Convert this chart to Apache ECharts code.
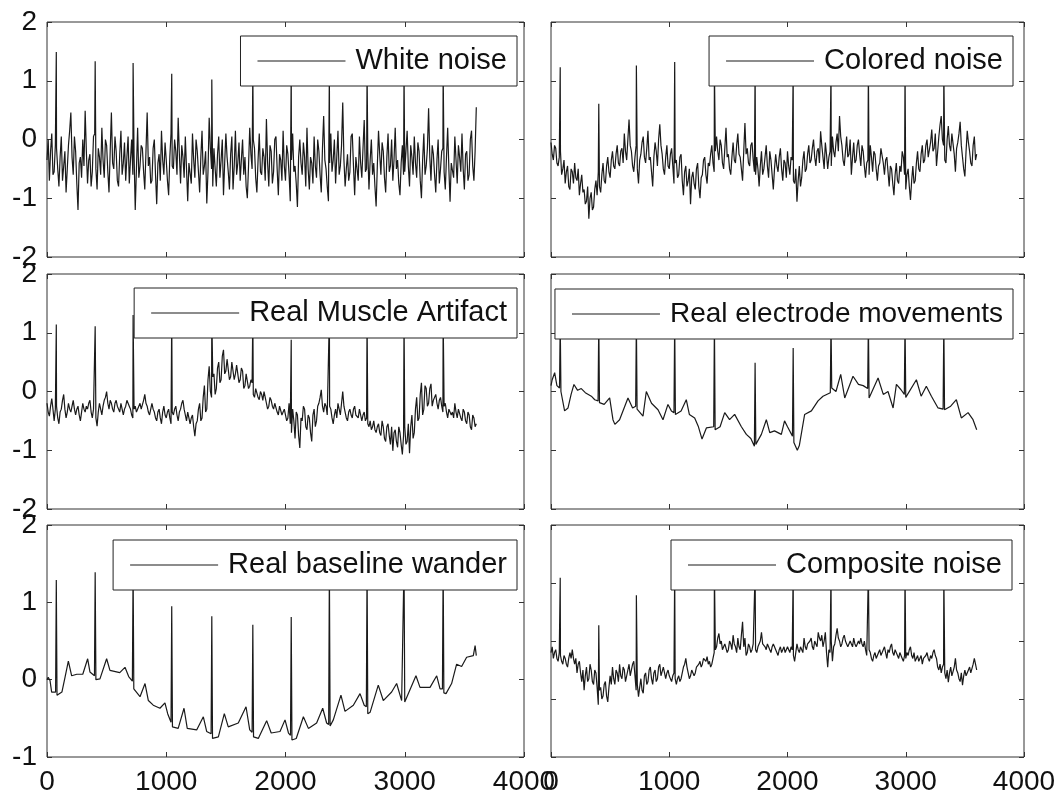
<!DOCTYPE html>
<html>
<head>
<meta charset="utf-8">
<script src="https://cdn.jsdelivr.net/npm/echarts@6/dist/echarts.min.js"></script>
<style>
  html, body { margin: 0; padding: 0; background: #fff; }
  #chart { width: 1063px; height: 796px; }
</style>
</head>
<body>
<div id="chart"></div>
<script>
// R-peak sample positions, same ECG record in all six panels
var rPeaks = [78, 404, 722, 1046, 1382, 1726, 2048, 2368, 2684, 2994, 3322];

// noisy panels: one value every 10 samples (0..3600)
var whiteNoise = [
  -0.35, 0.0, -0.7, -0.2, 0.1, -0.6, -0.55, -0.1, -0.15, -0.5, -0.8, -0.3, 0.05, -0.7, -0.45, -0.2, -0.9, -0.5, -0.1, 0.15,
  0.46, -0.3, -0.6, 0.05, -0.2, -0.75, -1.2, -0.4, -0.3, -0.65, 0.0, -0.45, 0.49, -0.2, -0.75, -0.35, -0.25, -0.8, -0.55, 0.05,
  0.1, -0.5, -0.85, -0.15, -0.3, -0.6, 0.2, -0.35, -0.65, 0.0, -0.1, -0.55, -0.9, -0.2, 0.46, -0.4, -0.5, 0.05, -0.2, -0.7,
  -0.8, -0.25, 0.15, -0.6, -0.4, -0.05, -0.7, -0.3, 0.05, -0.75, -0.35, 0.0, -0.6, -0.25, -1.2, -0.5, 0.2, -0.65, -0.45, -0.1,
  -0.15, -0.55, -0.85, -0.2, 0.46, -0.45, -0.3, -0.75, -0.7, -0.15, 0.0, -0.6, -1.1, -0.4, -0.25, -0.7, 0.15, -0.35, -0.6, -0.05,
  -0.35, -0.7, -0.95, -0.3, 0.1, -0.45, -0.5, 0.0, -0.2, -0.6, 0.37, -0.25, -0.75, -0.1, -0.3, -0.65, 0.05, -0.5, -1.05, -0.4,
  -0.4, -0.75, 0.1, -0.35, -0.65, 0.0, -0.2, -0.55, -0.9, -0.3, 0.15, -0.6, -0.45, -0.2, -1.09, -0.55, 0.37, -0.15, -0.5, -0.8,
  -0.15, -0.5, -0.8, -0.25, 0.05, -0.65, -0.35, 0.0, -0.95, -0.4, 0.1, -0.3, -0.55, -0.85, -0.25, 0.05, -0.85, -0.45, 0.15, -0.6,
  -0.4, -0.05, -0.7, -0.35, 0.0, -0.6, -0.3, -0.8, -1.0, -0.45, 0.2, -0.25, -0.5, 0.0, -0.15, -0.65, -0.9, -0.35, 0.1, -0.55,
  -0.6, -0.15, -0.3, -0.7, 0.35, -0.4, -0.8, -0.1, -0.2, -0.75, -0.55, 0.0, 0.05, -0.5, -0.95, -0.25, -0.35, -0.7, 0.15, -0.45,
  -0.7, -0.1, -0.25, -0.6, -1.05, -0.35, 0.1, -0.55, -0.45, -0.75, -1.15, -0.3, 0.0, -0.4, -0.6, -0.05, -0.3, -0.8, 0.2, -0.5,
  -0.85, -0.3, -0.4, -0.75, 0.05, -0.45, -0.65, 0.0, -0.2, -0.6, -0.9, -0.15, 0.4, -0.35, -0.5, -0.8, -1.05, -0.4, 0.1, -0.55,
  -0.35, 0.0, -0.75, -0.3, 0.15, -0.6, -0.45, -0.1, 0.63, -0.35, -0.8, -0.5, -0.25, -0.7, -0.55, 0.05, 0.1, -0.45, -0.95, -0.3,
  -0.3, -0.7, 0.05, -0.4, -0.65, -0.15, 0.33, -0.55, -0.5, -0.2, -0.85, -0.35, 0.0, -0.6, -0.4, -0.8, -1.14, -0.45, 0.15, -0.25,
  -0.6, -0.05, -0.2, -0.65, -0.9, -0.3, 0.1, -0.55, -0.45, 0.0, -0.7, -0.35, 0.2, -0.5, -0.35, -0.75, -0.95, -0.4, -0.1, -0.6,
  -0.55, -0.2, 0.15, -0.45, -0.8, -0.1, -0.3, -0.6, 0.05, -0.4, -0.65, -0.05, -0.2, -0.7, -1.0, -0.35, 0.1, -0.6, -0.45, -0.15,
  0.53, -0.3, -0.7, -0.1, -0.25, -0.6, -0.9, -0.35, 0.0, -0.75, -0.5, -0.2, -0.15, -0.55, -0.85, -0.3, 0.2, -0.5, -1.06, -0.4,
  -0.4, -0.65, 0.05, -0.35, -0.75, -0.1, -0.3, -0.55, 0.1, -0.5, -0.85, -0.25, -0.2, -0.7, -0.6, 0.0, 0.15, -0.45, -0.7, -0.2, 0.55
];
var whitePeaks = [1.49, 1.33, 1.3, 1.12, 1.02, 1.2, 1.2, 1.2, 1.2, 1.2, 1.2];

var coloredNoise = [
  -0.05, -0.25, -0.35, -0.1, -0.15, -0.4, -0.45, -0.3, -0.2, -0.6, -0.5, -0.35, -0.75, -0.55, -0.45, -0.8, -0.85, -0.5, -0.55, -0.75,
  -0.4, -0.65, -0.7, -0.5, -0.95, -0.75, -0.6, -0.9, -0.85, -1.1, -1.05, -0.8, -1.35, -1.0, -0.9, -1.2, -1.15, -0.85, -0.7, -0.95,
  -0.55, -0.8, -0.9, -0.6, -0.4, -0.7, -0.75, -0.45, -0.3, -0.55, -0.65, -0.35, -0.2, -0.45, -0.5, -0.25, -0.1, -0.4, -0.45, -0.2,
  -0.15, -0.4, 0.1, -0.2, -0.35, 0.0, 0.34, -0.1, -0.2, -0.45, -0.55, -0.3, -0.1, -0.5, -0.75, -0.35, -0.25, -0.05, 0.05, -0.3,
  -0.4, -0.15, 0.15, -0.35, -0.3, -0.55, -0.8, -0.3, -0.05, -0.2, -0.45, 0.0, 0.26, -0.1, -0.25, -0.5, -0.6, -0.3, -0.1, -0.45,
  -0.5, -0.25, -0.15, -0.45, -0.75, -0.4, -0.35, -0.65, -0.6, -0.3, -0.25, -0.7, -0.95, -0.55, -0.45, -0.8, -0.7, -0.5, -1.1, -0.65,
  -0.55, -0.75, -0.85, -0.5, -0.4, -0.8, -1.0, -0.65, -0.6, -0.35, -0.3, -0.6, -0.75, -0.4, -0.45, -0.25, -0.1, -0.4, -0.55, -0.2,
  0.05, -0.2, -0.35, 0.0, -0.1, -0.4, -0.5, -0.15, 0.2, -0.3, -0.25, -0.5, -0.6, -0.3, -0.05, -0.35, -0.4, -0.1, 0.1, -0.25,
  -0.3, -0.5, -0.7, -0.2, 0.28, -0.25, -0.15, -0.4, -0.45, -0.1, -0.05, -0.35, -0.55, -0.6, -0.3, -0.5, -0.8, -0.45, -0.2, -0.6,
  -0.5, -0.3, -0.1, -0.45, -0.65, -0.2, -0.35, -0.6, -0.85, -0.5, -0.25, -0.45, -0.55, -0.3, -0.15, -0.5, -0.7, -0.35, -0.4, -0.65,
  -0.2, -0.45, -0.6, -0.3, -0.35, -0.7, -0.75, -0.5, -1.06, -0.7, -0.45, -0.8, -0.65, -0.35, -0.2, -0.55, -0.5, -0.25, -0.1, -0.4,
  -0.35, -0.15, 0.0, -0.3, -0.45, -0.2, -0.15, -0.4, 0.14, -0.1, -0.3, -0.5, -0.05, -0.25, -0.5, -0.3, -0.2, -0.45, 0.05, -0.2,
  -0.3, -0.05, 0.1, -0.2, 0.4, 0.05, -0.1, -0.35, -0.45, -0.2, 0.05, -0.3, -0.25, 0.0, -0.6, -0.3, -0.05, -0.4, -0.35, -0.1,
  0.0, -0.25, -0.45, -0.1, -0.2, -0.45, -0.65, -0.4, -0.35, -0.6, -0.1, -0.3, -0.55, -0.2, -0.25, -0.5, -0.7, -0.45, -0.4, -0.15,
  -0.15, -0.4, -0.6, -0.35, -0.3, -0.55, -0.8, -0.45, -0.5, -0.75, -0.95, -0.6, -0.4, -0.7, -0.75, -0.45, -0.55, -0.2, -0.3, -0.6,
  -0.85, -0.6, -0.5, -0.8, -1.03, -0.7, -0.45, -0.75, -0.7, -0.4, -0.2, -0.5, -0.55, -0.25, -0.1, -0.4, -0.35, -0.1, 0.0, -0.3,
  -0.3, -0.05, 0.17, -0.2, -0.15, 0.1, -0.45, -0.2, 0.05, 0.25, 0.4, 0.0, -0.1, -0.35, -0.4, 0.0, 0.23, -0.1, -0.2, 0.1,
  0.1, -0.25, -0.55, -0.15, -0.05, 0.1, 0.3, -0.1, -0.3, -0.5, -0.63, -0.2, 0.15, -0.05, -0.2, -0.4, -0.45, -0.1, 0.05, -0.35, -0.25
];
var coloredPeaks = [1.23, 0.61, 1.26, 1.32, 1.2, 1.2, 1.2, 1.2, 1.2, 1.2, 1.2];

var muscle = [
  -0.2, -0.35, -0.42, -0.25, -0.12, -0.3, -0.5, -0.3, -0.25, -0.45, -0.55, -0.35, -0.3, -0.15, -0.05, -0.3, -0.45, -0.35, -0.2, -0.3,
  -0.35, -0.25, -0.15, -0.3, -0.4, -0.3, -0.25, -0.4, -0.5, -0.35, -0.2, -0.3, -0.35, -0.25, -0.3, -0.2, -0.15, -0.35, -0.45, -0.3,
  -0.3, -0.45, -0.59, -0.35, -0.2, -0.3, -0.4, -0.25, -0.15, -0.1, 0.0, -0.2, -0.3, -0.15, -0.2, -0.3, -0.35, -0.2, -0.15, -0.25,
  -0.3, -0.35, -0.2, -0.3, -0.4, -0.3, -0.25, -0.15, -0.15, -0.25, -0.3, -0.4, -0.45, -0.3, -0.25, -0.35, -0.35, -0.25, -0.2, -0.3,
  -0.3, -0.15, -0.05, -0.2, -0.25, -0.35, -0.4, -0.3, -0.2, -0.3, -0.35, -0.45, -0.5, -0.35, -0.3, -0.45, -0.55, -0.35, -0.25, -0.4,
  -0.45, -0.35, -0.3, -0.45, -0.55, -0.35, -0.4, -0.3, -0.25, -0.4, -0.5, -0.35, -0.3, -0.2, -0.15, -0.3, -0.4, -0.5, -0.35, -0.45,
  -0.55, -0.45, -0.4, -0.6, -0.76, -0.55, -0.5, -0.3, -0.2, -0.5, -0.45, -0.1, 0.1, -0.35, -0.3, 0.2, 0.43, 0.0, -0.1, 0.25,
  0.3, -0.05, 0.05, 0.4, 0.5, 0.15, 0.2, 0.6, 0.71, 0.3, 0.35, 0.55, 0.55, 0.2, 0.25, 0.5, 0.5, 0.2, 0.3, 0.45,
  0.45, 0.15, 0.2, 0.4, 0.35, 0.05, 0.1, 0.3, 0.3, 0.05, 0.09, 0.2, 0.15, -0.05, -0.1, 0.05, 0.05, -0.1, -0.14, 0.0,
  -0.05, -0.15, 0.0, -0.1, -0.2, -0.3, -0.25, -0.1, -0.15, -0.25, -0.3, -0.2, -0.2, -0.35, -0.4, -0.25, -0.25, -0.4, -0.35, -0.3,
  -0.3, -0.5, -0.45, -0.2, -0.55, -0.7, -0.3, -0.5, -0.8, -0.35, -0.4, -0.75, -0.96, -0.45, -0.5, -0.25, -0.3, -0.6, -0.65, -0.4,
  -0.45, -0.7, -0.85, -0.4, -0.3, -0.6, -0.5, -0.25, -0.2, -0.1, 0.03, -0.25, -0.35, -0.2, -0.25, -0.4, -0.4, -0.25, -0.3, -0.45,
  -0.55, -0.4, -0.3, -0.45, -0.2, -0.3, -0.4, -0.2, 0.0, -0.25, -0.35, -0.45, -0.5, -0.35, -0.3, -0.4, -0.45, -0.3, -0.25, -0.4,
  -0.4, -0.45, -0.3, -0.4, -0.5, -0.4, -0.35, -0.5, -0.45, -0.55, -0.6, -0.5, -0.65, -0.6, -0.5, -0.65, -0.7, -0.6, -0.55, -0.7,
  -0.75, -0.5, -0.6, -0.8, -0.85, -0.6, -0.55, -0.75, -0.9, -0.6, -1.01, -0.7, -0.65, -0.85, -0.95, -0.6, -0.7, -0.9, -1.07, -0.75,
  -0.6, -0.9, -0.85, -0.55, -1.05, -0.6, -0.4, -0.8, -0.7, -0.3, -0.1, -0.5, -0.45, -0.05, 0.15, -0.4, -0.3, 0.1, 0.05, -0.25,
  -0.2, 0.05, 0.13, -0.25, -0.15, -0.1, -0.05, -0.2, -0.3, -0.15, -0.1, -0.25, -0.35, -0.25, -0.2, -0.35, -0.45, -0.3, -0.3, -0.4,
  -0.35, -0.45, -0.2, -0.35, -0.45, -0.3, -0.3, -0.45, -0.5, -0.3, -0.35, -0.5, -0.55, -0.35, -0.4, -0.6, -0.65, -0.4, -0.45, -0.6, -0.55
];
var musclePeaks = [1.14, 1.11, 1.3, 1.3, 1.3, 1.3, 0.88, 1.3, 1.3, 1.3, 1.3];

var composite = [
  -0.2, -0.1, -0.3, -0.2, -0.15, -0.3, -0.35, -0.2, -0.25, -0.35, -0.4, -0.25, -0.3, -0.4, -0.45, -0.3, -0.2, -0.3, -0.15, -0.3,
  -0.4, -0.3, -0.55, -0.4, -0.35, -0.55, -0.7, -0.5, -0.85, -0.6, -0.45, -0.7, -0.65, -0.4, -0.5, -0.7, -0.75, -0.5, -0.55, -0.8,
  -1.1, -0.85, -0.8, -1.0, -0.95, -0.75, -0.7, -0.95, -1.05, -0.8, -0.6, -0.75, -0.45, -0.65, -0.75, -0.5, -0.55, -0.7, -0.4, -0.6,
  -0.65, -0.45, -0.5, -0.7, -0.7, -0.5, -0.4, -0.6, -0.6, -0.4, -0.35, -0.6, -0.85, -0.75, -0.96, -0.8, -0.65, -0.85, -0.9, -0.6,
  -0.55, -0.75, -0.7, -0.5, -0.45, -0.65, -0.75, -0.55, -0.5, -0.7, -0.65, -0.45, -0.4, -0.6, -0.6, -0.45, -0.45, -0.65, -0.55, -0.5,
  -0.6, -0.65, -0.7, -0.6, -0.55, -0.65, -0.75, -0.65, -0.6, -0.7, -0.65, -0.55, -0.45, -0.4, -0.3, -0.45, -0.55, -0.65, -0.6, -0.5,
  -0.5, -0.6, -0.55, -0.45, -0.45, -0.4, -0.35, -0.45, -0.4, -0.3, -0.3, -0.35, -0.27, -0.4, -0.35, -0.45, -0.4, -0.3, -0.2, -0.15,
  -0.1, 0.05, 0.13, -0.05, 0.0, -0.15, -0.1, -0.05, -0.05, -0.2, -0.15, 0.0, -0.05, -0.15, 0.1, -0.05, -0.1, -0.2, 0.05, -0.1,
  -0.15, 0.1, 0.33, -0.1, 0.05, -0.25, -0.2, -0.05, -0.1, -0.2, -0.15, -0.05, -0.05, -0.15, -0.2, -0.1, -0.1, 0.0, 0.15, -0.05,
  -0.05, -0.1, -0.15, -0.05, -0.1, -0.15, -0.2, -0.1, -0.05, -0.1, -0.15, -0.2, -0.25, -0.15, -0.1, -0.2, -0.15, -0.1, -0.2, -0.15,
  -0.1, -0.15, -0.2, -0.1, -0.15, -0.25, -0.35, -0.2, -0.05, -0.15, -0.2, -0.1, -0.1, -0.2, 0.05, -0.1, -0.15, -0.05, -0.05, 0.0,
  0.05, -0.1, -0.15, 0.0, -0.05, -0.1, 0.15, 0.05, 0.0, 0.1, -0.1, 0.0, 0.15, -0.2, -0.45, -0.15, -0.2, 0.0, -0.35, -0.1,
  -0.05, 0.1, 0.22, 0.05, 0.0, -0.1, -0.05, 0.05, 0.1, 0.0, -0.05, -0.1, -0.1, 0.0, -0.05, -0.1, 0.05, -0.05, -0.1, -0.05,
  0.0, -0.05, 0.05, -0.05, -0.1, 0.0, -0.15, -0.25, -0.25, -0.15, -0.2, -0.3, -0.35, -0.25, -0.2, -0.3, -0.3, -0.2, -0.15, -0.25,
  -0.25, -0.15, -0.1, -0.2, -0.3, -0.15, -0.2, -0.1, -0.05, -0.2, -0.25, -0.15, -0.15, -0.25, -0.3, -0.2, -0.2, -0.3, -0.35, -0.25,
  -0.3, -0.2, -0.25, -0.15, -0.1, -0.25, -0.3, -0.2, -0.35, -0.3, -0.25, -0.35, -0.3, -0.25, -0.4, -0.3, -0.3, -0.25, -0.2, -0.3,
  -0.35, -0.25, -0.3, -0.2, -0.15, -0.25, -0.3, -0.45, -0.5, -0.4, -0.55, -0.45, -0.4, -0.55, -0.65, -0.5, -0.71, -0.55, -0.45, -0.6,
  -0.6, -0.45, -0.3, -0.5, -0.55, -0.65, -0.7, -0.55, -0.76, -0.6, -0.5, -0.6, -0.6, -0.5, -0.45, -0.55, -0.55, -0.4, -0.3, -0.4, -0.5
];
var compositePeaks = [1.09, 0.27, 0.79, 1.2, 1.2, 1.2, 1.2, 1.2, 1.2, 1.2, 1.2];

// smoother panels: [sample, value] read points
var electrode = [
  [0, 0.1], [10, 0.2], [31, 0.32], [50, 0.1], [72, 0.06], [84, 0.0], [115, -0.33], [144, -0.28],
  [170, -0.05], [194, 0.12], [225, 0.02], [256, 0.05], [290, -0.02], [341, -0.08], [370, -0.14],
  [398, -0.16], [410, -0.19], [450, -0.22], [496, -0.11], [524, -0.48], [540, -0.56], [580, -0.48],
  [651, -0.11], [690, -0.28], [716, -0.25], [728, -0.3], [778, -0.42], [806, 0.0], [850, -0.2],
  [905, -0.31], [947, -0.48], [989, -0.22], [1018, -0.33], [1040, -0.36], [1052, -0.39], [1100, -0.33],
  [1144, -0.14], [1170, -0.39], [1215, -0.45], [1245, -0.59], [1277, -0.81], [1314, -0.62], [1376, -0.6],
  [1388, -0.65], [1430, -0.6], [1469, -0.36], [1510, -0.48], [1553, -0.39], [1610, -0.6], [1652, -0.73],
  [1690, -0.8], [1720, -0.93], [1732, -0.9], [1779, -0.73], [1821, -0.48], [1850, -0.7], [1890, -0.67],
  [1948, -0.73], [1975, -0.5], [2000, -0.6], [2042, -0.76], [2054, -0.87], [2083, -1.0], [2100, -0.92],
  [2145, -0.39], [2202, -0.33], [2258, -0.16], [2300, -0.08], [2362, -0.02], [2374, 0.06], [2410, 0.0],
  [2450, 0.29], [2484, -0.11], [2554, 0.26], [2600, 0.12], [2640, 0.1], [2678, 0.05], [2690, -0.11],
  [2766, 0.23], [2810, -0.05], [2850, 0.0], [2893, -0.28], [2921, 0.12], [2960, 0.03], [2988, -0.05],
  [3000, -0.1], [3090, 0.2], [3130, -0.08], [3174, 0.09], [3217, -0.08], [3273, -0.28], [3316, -0.3],
  [3328, -0.31], [3380, -0.25], [3428, -0.14], [3470, -0.45], [3527, -0.36], [3569, -0.48], [3600, -0.65]
];
var electrodePeaks = [1.2, 1.2, 1.2, 1.2, 1.2, 0.49, 0.74, 1.2, 1.2, 1.2, 1.2];

var baseline = [
  [0, 0.0], [10, 0.03], [25, -0.01], [39, -0.16], [55, -0.14], [72, -0.16], [84, -0.2], [95, -0.18],
  [125, -0.16], [151, 0.03], [179, 0.24], [207, 0.05], [250, 0.07], [300, 0.07], [341, 0.27], [360, 0.1],
  [398, 0.05], [410, 0.0], [444, 0.01], [500, 0.27], [528, 0.12], [610, 0.09], [654, 0.16], [685, 0.04],
  [716, -0.02], [728, -0.12], [780, -0.22], [822, -0.05], [850, -0.27], [891, -0.33], [947, -0.37],
  [989, -0.3], [1012, -0.44], [1040, -0.55], [1052, -0.61], [1100, -0.63], [1149, -0.37], [1176, -0.63],
  [1255, -0.65], [1311, -0.48], [1339, -0.67], [1376, -0.7], [1388, -0.76], [1437, -0.74], [1487, -0.44],
  [1520, -0.61], [1604, -0.56], [1669, -0.35], [1700, -0.65], [1720, -0.68], [1732, -0.74], [1772, -0.76],
  [1842, -0.53], [1880, -0.69], [1954, -0.67], [1996, -0.52], [2025, -0.69], [2042, -0.72], [2054, -0.78],
  [2090, -0.76], [2150, -0.48], [2192, -0.63], [2261, -0.56], [2312, -0.37], [2345, -0.56], [2362, -0.58],
  [2374, -0.6], [2401, -0.52], [2465, -0.2], [2499, -0.41], [2569, -0.33], [2625, -0.18], [2660, -0.33],
  [2678, -0.35], [2690, -0.44], [2710, -0.42], [2778, -0.07], [2820, -0.27], [2890, -0.16], [2932, -0.05],
  [2974, -0.27], [2988, -0.25], [3000, -0.29], [3016, -0.29], [3094, 0.05], [3128, -0.1], [3212, -0.1],
  [3268, 0.05], [3296, -0.12], [3316, -0.12], [3328, -0.17], [3346, -0.18], [3393, -0.05], [3435, 0.2],
  [3477, 0.17], [3519, 0.29], [3575, 0.31], [3590, 0.44], [3600, 0.31]
];
var baselinePeaks = [1.29, 1.39, 1.45, 0.95, 0.82, 0.71, 0.81, 1.45, 1.5, 1.5, 1.5];

var names = ["White noise", "Colored noise", "Real Muscle Artifact",
  "Real electrode movements", "Real baseline wander", "Composite noise"];
var yRanges = [[-2, 2], [-2, 2], [-2, 2], [-2, 2], [-1, 2], [-2, 2]];

function withPeaks(points, peaks) {
  var pts = points.slice();
  rPeaks.forEach(function (p, j) {
    pts.push([p, peaks[j]]);
  });
  pts.sort(function (a, b) { return a[0] - b[0]; });
  return pts;
}
function stepped(values, step) {
  return values.map(function (v, i) { return [i * step, v]; });
}

var traces = [
  withPeaks(stepped(whiteNoise, 10), whitePeaks),
  withPeaks(stepped(coloredNoise, 10), coloredPeaks),
  withPeaks(stepped(muscle, 10), musclePeaks),
  withPeaks(electrode, electrodePeaks),
  withPeaks(baseline, baselinePeaks),
  withPeaks(stepped(composite, 10), compositePeaks),
];

var FONT = "'Liberation Sans', Arial, sans-serif";
var grids = [
  { left: 47, top: 22, width: 477, height: 235 },
  { left: 551, top: 22, width: 473, height: 235 },
  { left: 47, top: 274, width: 477, height: 235 },
  { left: 551, top: 274, width: 473, height: 235 },
  { left: 47, top: 525, width: 477, height: 235 },
  { left: 551, top: 525, width: 473, height: 235 },
];
// legend boxes: distance from right edge, top
var legendPos = [[546, 36], [50, 36], [546, 288], [50, 289], [546, 540], [51, 540]];

var xAxes = [], yAxes = [], series = [], legends = [];
grids.forEach(function (g, k) {
  g.show = true;
  g.borderColor = "#333";
  g.borderWidth = 1;
  var bottomRow = k >= 4;
  var leftCol = k % 2 === 0;
  var tick = { show: true, inside: true, length: 5, lineStyle: { color: "#333" } };
  var noLine = { show: false, onZero: false };
  xAxes.push({
    type: "value", gridIndex: k, min: 0, max: 4000, interval: 1000,
    axisLine: noLine, axisTick: tick, splitLine: { show: false },
    axisLabel: {
      show: bottomRow, fontSize: 28, color: "#111", fontFamily: FONT, margin: 11,
      formatter: function (v) { return String(v); },
    },
  });
  xAxes.push({
    type: "value", gridIndex: k, position: "top", min: 0, max: 4000, interval: 1000,
    axisLine: noLine, axisTick: tick, splitLine: { show: false },
    axisLabel: { show: false },
  });
  yAxes.push({
    type: "value", gridIndex: k, min: yRanges[k][0], max: yRanges[k][1], interval: 1,
    axisLine: noLine, axisTick: tick, splitLine: { show: false },
    axisLabel: { show: leftCol, fontSize: 28, color: "#111", fontFamily: FONT, margin: 10 },
  });
  yAxes.push({
    type: "value", gridIndex: k, position: "right", min: yRanges[k][0], max: yRanges[k][1], interval: 1,
    axisLine: noLine, axisTick: tick, splitLine: { show: false },
    axisLabel: { show: false },
  });
  series.push({
    name: names[k],
    type: "line",
    xAxisIndex: 2 * k,
    yAxisIndex: 2 * k,
    data: traces[k],
    showSymbol: false,
    symbol: "none",
    sampling: null,
    lineStyle: { color: "#1a1a1a", width: 1.2 },
    itemStyle: { color: "#1a1a1a" },
  });
  legends.push({
    data: [names[k]],
    right: legendPos[k][0],
    top: legendPos[k][1],
    selectedMode: false,
    icon: "rect",
    itemWidth: 88,
    itemHeight: 1,
    padding: [10, 10, 10, 17],
    backgroundColor: "#fff",
    borderColor: "#222",
    borderWidth: 1,
    textStyle: {
      fontSize: k === 3 ? 28 : 29, color: "#111", fontFamily: FONT,
      lineHeight: 30, padding: [0, 0, 0, 5],
    },
  });
});

var chart = echarts.init(document.getElementById("chart"));
chart.setOption({
  animation: false,
  backgroundColor: "#fff",
  grid: grids,
  xAxis: xAxes,
  yAxis: yAxes,
  legend: legends,
  series: series,
});
window.addEventListener("resize", function () {
  chart.resize();
});
</script>
</body>
</html>
